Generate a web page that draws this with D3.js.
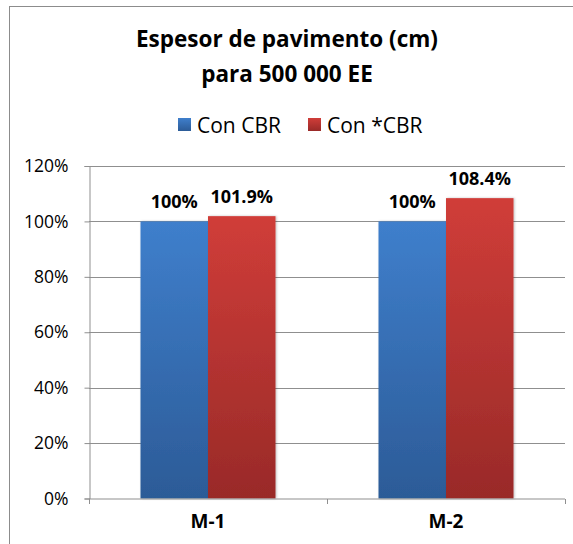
<!DOCTYPE html>
<html>
<head>
<meta charset="utf-8">
<script src="https://cdn.jsdelivr.net/npm/d3@7"></script>
<style>
  html, body { margin: 0; padding: 0; background: #fff; }
  svg { display: block; font-family: "Open Sans", "Liberation Sans", sans-serif; }
</style>
</head>
<body>
<svg id="chart" width="573" height="544"></svg>
<script>
// Pavement thickness relative to the reference CBR design
const categories = ["M-1", "M-2"];
const seriesNames = ["Con CBR", "Con *CBR"];
const conCBR = [100, 100];
const conStarCBR = [101.9, 108.4];
const valueLabels = [["100%", "100%"], ["101.9%", "108.4%"]];
const yTicks = [0, 20, 40, 60, 80, 100, 120];
const titleLines = ["Espesor de pavimento (cm)", "para 500 000 EE"];

const series = [conCBR, conStarCBR];
const gradients = [
  { id: "gBlue", top: "#3f7fcc", bottom: "#2c5b97" },
  { id: "gRed", top: "#d03d39", bottom: "#992a28" }
];
const FONT = "\"Open Sans\", \"Liberation Sans\", sans-serif";

const svg = d3.select("#chart");
const W = 573, H = 544;
const plot = { left: 89, right: 565, top: 166, bottom: 498.5 };

// outer chart frame (extends past the right and bottom edges)
svg.append("rect")
  .attr("x", 9.5).attr("y", 6.5)
  .attr("width", W + 20).attr("height", H + 20)
  .attr("fill", "#fff").attr("stroke", "#8c8c8c").attr("stroke-width", 1);

const defs = svg.append("defs");
gradients.forEach(g => {
  const lg = defs.append("linearGradient").attr("id", g.id)
    .attr("x1", 0).attr("y1", 0).attr("x2", 0).attr("y2", 1);
  lg.append("stop").attr("offset", "0%").attr("stop-color", g.top);
  lg.append("stop").attr("offset", "100%").attr("stop-color", g.bottom);
});
const shadow = defs.append("filter").attr("id", "shadow")
  .attr("x", "-10%").attr("y", "-10%").attr("width", "130%").attr("height", "130%");
shadow.append("feDropShadow").attr("dx", 1).attr("dy", 0).attr("stdDeviation", 1)
  .attr("flood-color", "#000").attr("flood-opacity", 0.25);

// title
svg.append("g").selectAll("text").data(titleLines).join("text")
  .attr("x", 287).attr("y", (d, i) => 47 + i * 35)
  .attr("text-anchor", "middle")
  .attr("font-size", 22.5).attr("font-weight", "bold").attr("fill", "#000")
  .text(d => d);

// legend
const legendItems = [
  { name: seriesNames[0], x: 178, grad: gradients[0] },
  { name: seriesNames[1], x: 308, grad: gradients[1] }
];
const lg = svg.append("g");
legendItems.forEach(it => {
  lg.append("rect").attr("x", it.x).attr("y", 118).attr("width", 13).attr("height", 13)
    .attr("fill", `url(#${it.grad.id})`);
  lg.append("text").attr("x", it.x + 19).attr("y", 132.5)
    .attr("font-size", 21).attr("fill", "#000").text(it.name);
});

// scales
const y = d3.scaleLinear().domain([0, 120]).range([plot.bottom, plot.top]);
const x0 = d3.scaleBand().domain(categories).range([plot.left, plot.right]).paddingInner(0).paddingOuter(0);
const barW = 67.5;
const x1 = d3.scaleBand().domain(d3.range(series.length))
  .range([-barW, barW]);

// gridlines
svg.append("g").selectAll("line").data(yTicks.filter(t => t > 0)).join("line")
  .attr("x1", plot.left).attr("x2", plot.right)
  .attr("y1", d => Math.round(y(d)) + 0.5).attr("y2", d => Math.round(y(d)) + 0.5)
  .attr("stroke", "#8f8f8f").attr("stroke-width", 1);

// y axis
const yAxis = svg.append("g").attr("transform", `translate(${plot.left + 0.5},0)`)
  .call(d3.axisLeft(y).tickValues(yTicks).tickFormat(d => d + "%").tickSize(5).tickPadding(16));
yAxis.select(".domain").attr("stroke", "#8f8f8f");
yAxis.selectAll(".tick line").attr("stroke", "#8f8f8f");
yAxis.selectAll("text").attr("font-size", 17.5).attr("fill", "#000")
  .attr("font-family", FONT);

// bars
const groups = svg.append("g").selectAll("g").data(categories).join("g")
  .attr("transform", d => `translate(${x0(d) + x0.bandwidth() / 2},0)`);
groups.selectAll("rect").data((c, ci) => series.map((s, si) => ({ si, v: s[ci], ci })))
  .join("rect")
  .attr("x", d => x1(d.si)).attr("width", x1.bandwidth())
  .attr("y", d => y(d.v)).attr("height", d => y(0) - y(d.v))
  .attr("fill", d => `url(#${gradients[d.si].id})`)
  .attr("filter", "url(#shadow)");

// value labels
groups.selectAll("text.val").data((c, ci) => series.map((s, si) => ({ si, v: s[ci], ci })))
  .join("text").attr("class", "val")
  .attr("x", d => x1(d.si) + x1.bandwidth() / 2)
  .attr("y", d => y(d.v) - 13)
  .attr("text-anchor", "middle")
  .attr("font-size", 18).attr("font-weight", "bold").attr("fill", "#000")
  .text(d => valueLabels[d.si][d.ci]);

// x axis
const xAxis = svg.append("g").attr("transform", `translate(0,${plot.bottom + 0.5})`)
  .call(d3.axisBottom(x0).tickSize(0).tickPadding(16));
xAxis.select(".domain").remove();
xAxis.append("line").attr("x1", plot.left).attr("x2", plot.right).attr("y1", 0).attr("y2", 0)
  .attr("stroke", "#8f8f8f");
xAxis.selectAll(".sep").data([plot.left, (plot.left + plot.right) / 2, plot.right]).join("line")
  .attr("class", "sep")
  .attr("x1", d => Math.round(d) + 0.5).attr("x2", d => Math.round(d) + 0.5)
  .attr("y1", 0).attr("y2", 5).attr("stroke", "#8f8f8f");
xAxis.selectAll("text").attr("font-size", 19).attr("font-weight", "bold").attr("fill", "#000")
  .attr("font-family", FONT);
</script>
</body>
</html>
